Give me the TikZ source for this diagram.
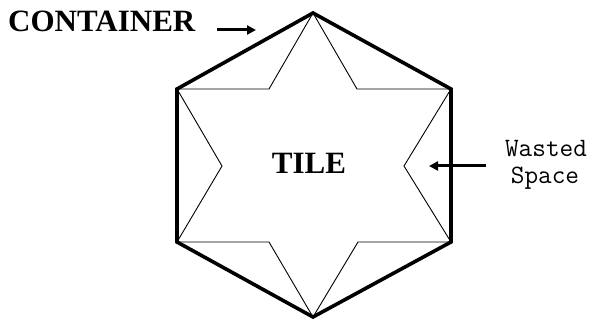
\documentclass[tikz,border=0pt]{standalone}
\usepackage{fontspec}
\setmainfont{Liberation Serif}
\usetikzlibrary{arrows.meta}
\begin{document}
\begin{tikzpicture}[x=1pt,y=-1pt,
  hexline/.style={line width=3.6pt,line join=miter},
  starline/.style={line width=0.9pt,line join=miter},
  pointer/.style={line width=3pt,-{Triangle[length=9pt,width=9pt]}},
  bigtext/.style={font=\fontsize{31}{33}\selectfont\bfseries,inner sep=0pt},
  smalltext/.style={font=\ttfamily\fontsize{26.5}{28}\selectfont,align=center,inner sep=0pt}]
\useasboundingbox (0,0) rectangle (590,321);
% hexagon vertices
\coordinate (T) at (313,13);
\coordinate (UR) at (451,89);
\coordinate (LR) at (451,242);
\coordinate (B) at (313,317);
\coordinate (LL) at (177,242);
\coordinate (UL) at (177,89);
% star inner vertices
\coordinate (iUR) at (357,89);
\coordinate (iR) at (404,166);
\coordinate (iLR) at (358,242);
\coordinate (iLL) at (269,242);
\coordinate (iL) at (222,166);
\coordinate (iUL) at (269,89);
\draw[starline] (T) -- (iUR) -- (UR) -- (iR) -- (LR) -- (iLR) -- (B) -- (iLL) -- (LL) -- (iL) -- (UL) -- (iUL) -- cycle;
\draw[hexline] (T) -- (UR) -- (LR) -- (B) -- (LL) -- (UL) -- cycle;
% labels
\node[bigtext,anchor=base west] (container) at (8,32) {CONTAINER};
\node[bigtext,anchor=base] (tile) at (309,173) {TILE};
\node[smalltext,anchor=base] (wasted) at (546,157) {Wasted};
\node[smalltext,anchor=base] (space) at (545,183) {Space};
% pointers
\coordinate (cTip) at (256,30);
\coordinate (wTip) at (429,166);
\coordinate (cStart) at (217,30);
\coordinate (wStart) at (486,166);
\draw[pointer] (cStart) -- (cTip);
\draw[pointer] (wStart) -- (wTip);
\end{tikzpicture}
\end{document}
